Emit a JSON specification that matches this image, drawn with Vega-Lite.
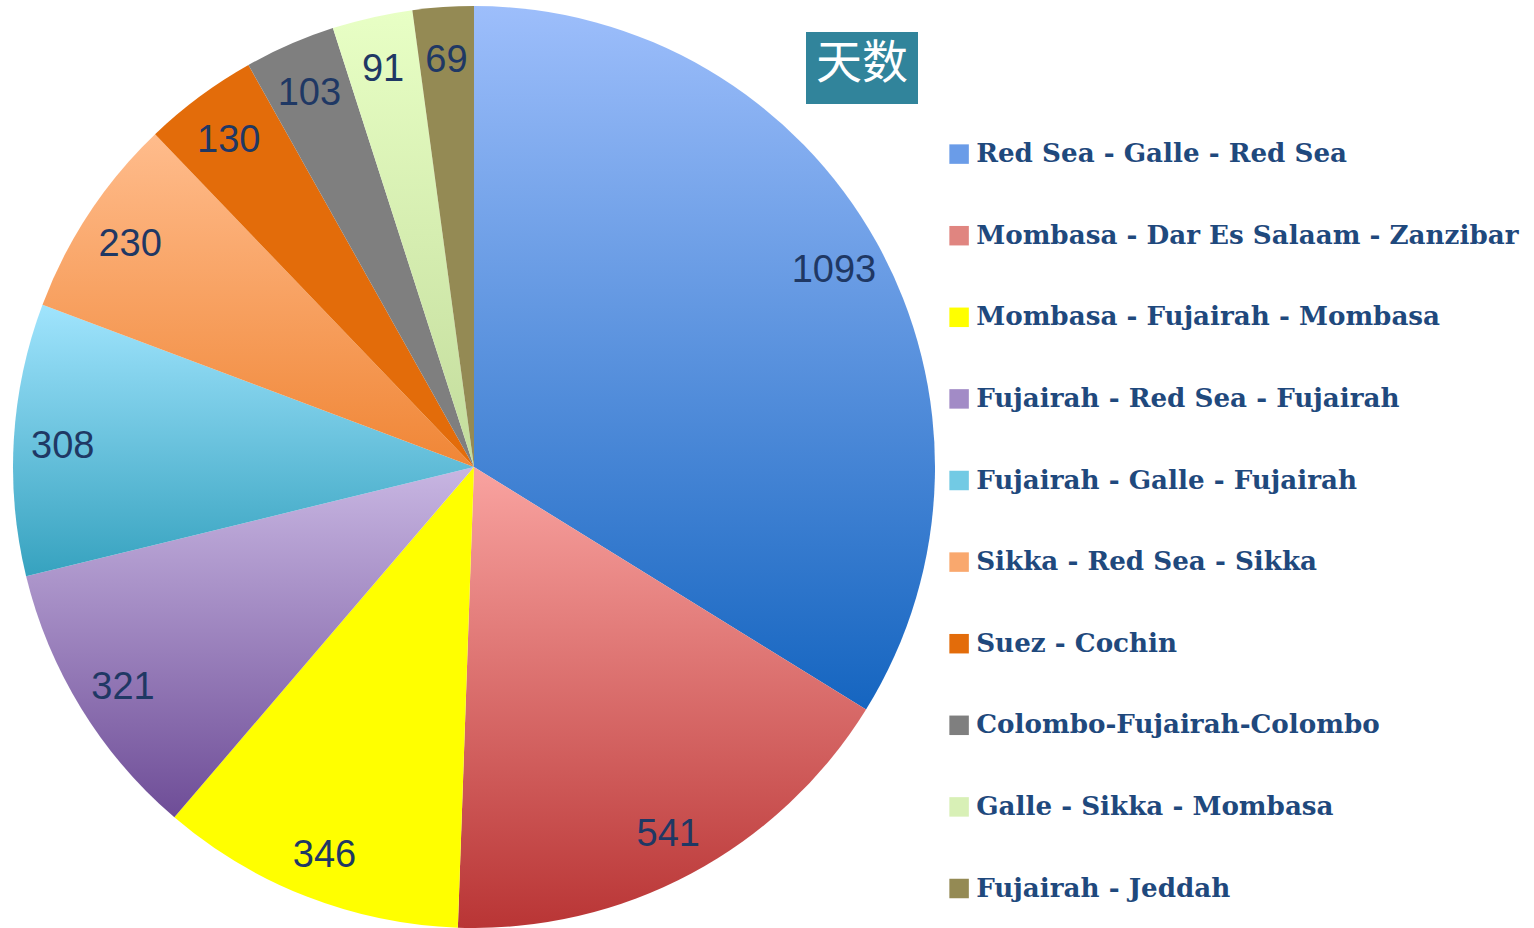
{
  "$schema": "https://vega.github.io/schema/vega-lite/v6.json",
  "width": 948,
  "height": 920,
  "autosize": {"type": "none"},
  "padding": {"left": 0, "top": 7, "right": 586, "bottom": 1},
  "background": "white",
  "config": {"view": {"stroke": null}},
  "data": {
    "values": [
      {"idx": 1, "route": "Red Sea - Galle - Red Sea", "days": 1093, "unit": "天数"},
      {"idx": 2, "route": "Mombasa - Dar Es Salaam - Zanzibar", "days": 541, "unit": "天数"},
      {"idx": 3, "route": "Mombasa - Fujairah - Mombasa", "days": 346, "unit": "天数"},
      {"idx": 4, "route": "Fujairah - Red Sea - Fujairah", "days": 321, "unit": "天数"},
      {"idx": 5, "route": "Fujairah - Galle - Fujairah", "days": 308, "unit": "天数"},
      {"idx": 6, "route": "Sikka - Red Sea - Sikka", "days": 230, "unit": "天数"},
      {"idx": 7, "route": "Suez - Cochin", "days": 130, "unit": "天数"},
      {"idx": 8, "route": "Colombo-Fujairah-Colombo", "days": 103, "unit": "天数"},
      {"idx": 9, "route": "Galle - Sikka - Mombasa", "days": 91, "unit": "天数"},
      {"idx": 10, "route": "Fujairah - Jeddah", "days": 69, "unit": "天数"}
    ]
  },
  "encoding": {
    "theta": {"field": "days", "type": "quantitative", "stack": true},
    "order": {"field": "idx", "type": "quantitative"}
  },
  "layer": [
    {
      "mark": {"type": "arc", "outerRadius": 461},
      "encoding": {
        "fill": {
          "condition": [
            {"test": "datum.idx === 1", "value": {"gradient": "linear", "x1": 0, "y1": 0, "x2": 0, "y2": 1, "stops": [{"offset": 0, "color": "#9DBEFB"}, {"offset": 1, "color": "#1565C0"}]}},
            {"test": "datum.idx === 2", "value": {"gradient": "linear", "x1": 0, "y1": 0, "x2": 0, "y2": 1, "stops": [{"offset": 0, "color": "#F9A3A0"}, {"offset": 1, "color": "#B93535"}]}},
            {"test": "datum.idx === 4", "value": {"gradient": "linear", "x1": 0, "y1": 0, "x2": 0, "y2": 1, "stops": [{"offset": 0, "color": "#C8B6E2"}, {"offset": 1, "color": "#6E4D97"}]}},
            {"test": "datum.idx === 5", "value": {"gradient": "linear", "x1": 0, "y1": 0, "x2": 0, "y2": 1, "stops": [{"offset": 0, "color": "#A0E4FD"}, {"offset": 1, "color": "#36A2BF"}]}},
            {"test": "datum.idx === 6", "value": {"gradient": "linear", "x1": 0, "y1": 0, "x2": 0, "y2": 1, "stops": [{"offset": 0, "color": "#FFBC8C"}, {"offset": 1, "color": "#F08636"}]}},
            {"test": "datum.idx === 9", "value": {"gradient": "linear", "x1": 0, "y1": 0, "x2": 0, "y2": 1, "stops": [{"offset": 0, "color": "#E8FFC5"}, {"offset": 1, "color": "#C3DC9C"}]}}
          ],
          "field": "route",
          "type": "nominal",
          "sort": null,
          "scale": {
            "domain": [
              "Red Sea - Galle - Red Sea",
              "Mombasa - Dar Es Salaam - Zanzibar",
              "Mombasa - Fujairah - Mombasa",
              "Fujairah - Red Sea - Fujairah",
              "Fujairah - Galle - Fujairah",
              "Sikka - Red Sea - Sikka",
              "Suez - Cochin",
              "Colombo-Fujairah-Colombo",
              "Galle - Sikka - Mombasa",
              "Fujairah - Jeddah"
            ],
            "range": ["#6A9CE8", "#E08580", "#FFFF00", "#A28BC6", "#72CAE4", "#F9A86E", "#E36C0A", "#7F7F7F", "#D8F0B6", "#948A54"]
          },
          "legend": {
            "title": null,
            "orient": "none",
            "legendX": 946,
            "legendY": 134,
            "symbolType": "square",
            "symbolSize": 380,
            "symbolStrokeWidth": 0,
            "labelFont": "DejaVu Serif",
            "labelFontWeight": "bold",
            "labelFontSize": 26.2,
            "labelColor": "#1F497D",
            "labelOffset": 4,
            "labelLimit": 0,
            "rowPadding": 54.6
          }
        },
        "opacity": {
          "field": "unit",
          "type": "nominal",
          "scale": {"range": [1, 1]},
          "legend": {
            "title": "天数",
            "orient": "none",
            "legendX": 806,
            "legendY": 25,
            "fillColor": "#31849B",
            "padding": 10,
            "titleFont": "Noto Sans CJK SC",
            "titleFontSize": 46,
            "titleFontWeight": "normal",
            "titleColor": "white",
            "titlePadding": 2,
            "titleLimit": 0,
            "symbolSize": 0,
            "symbolOpacity": 0,
            "labelFontSize": 1,
            "labelExpr": "''"
          }
        }
      }
    },
    {
      "mark": {"type": "text", "radius": 412, "dy": 5, "fontSize": 38, "font": "Liberation Sans", "fill": "#1F3864"},
      "encoding": {
        "text": {"field": "days", "type": "quantitative"}
      }
    }
  ]
}
